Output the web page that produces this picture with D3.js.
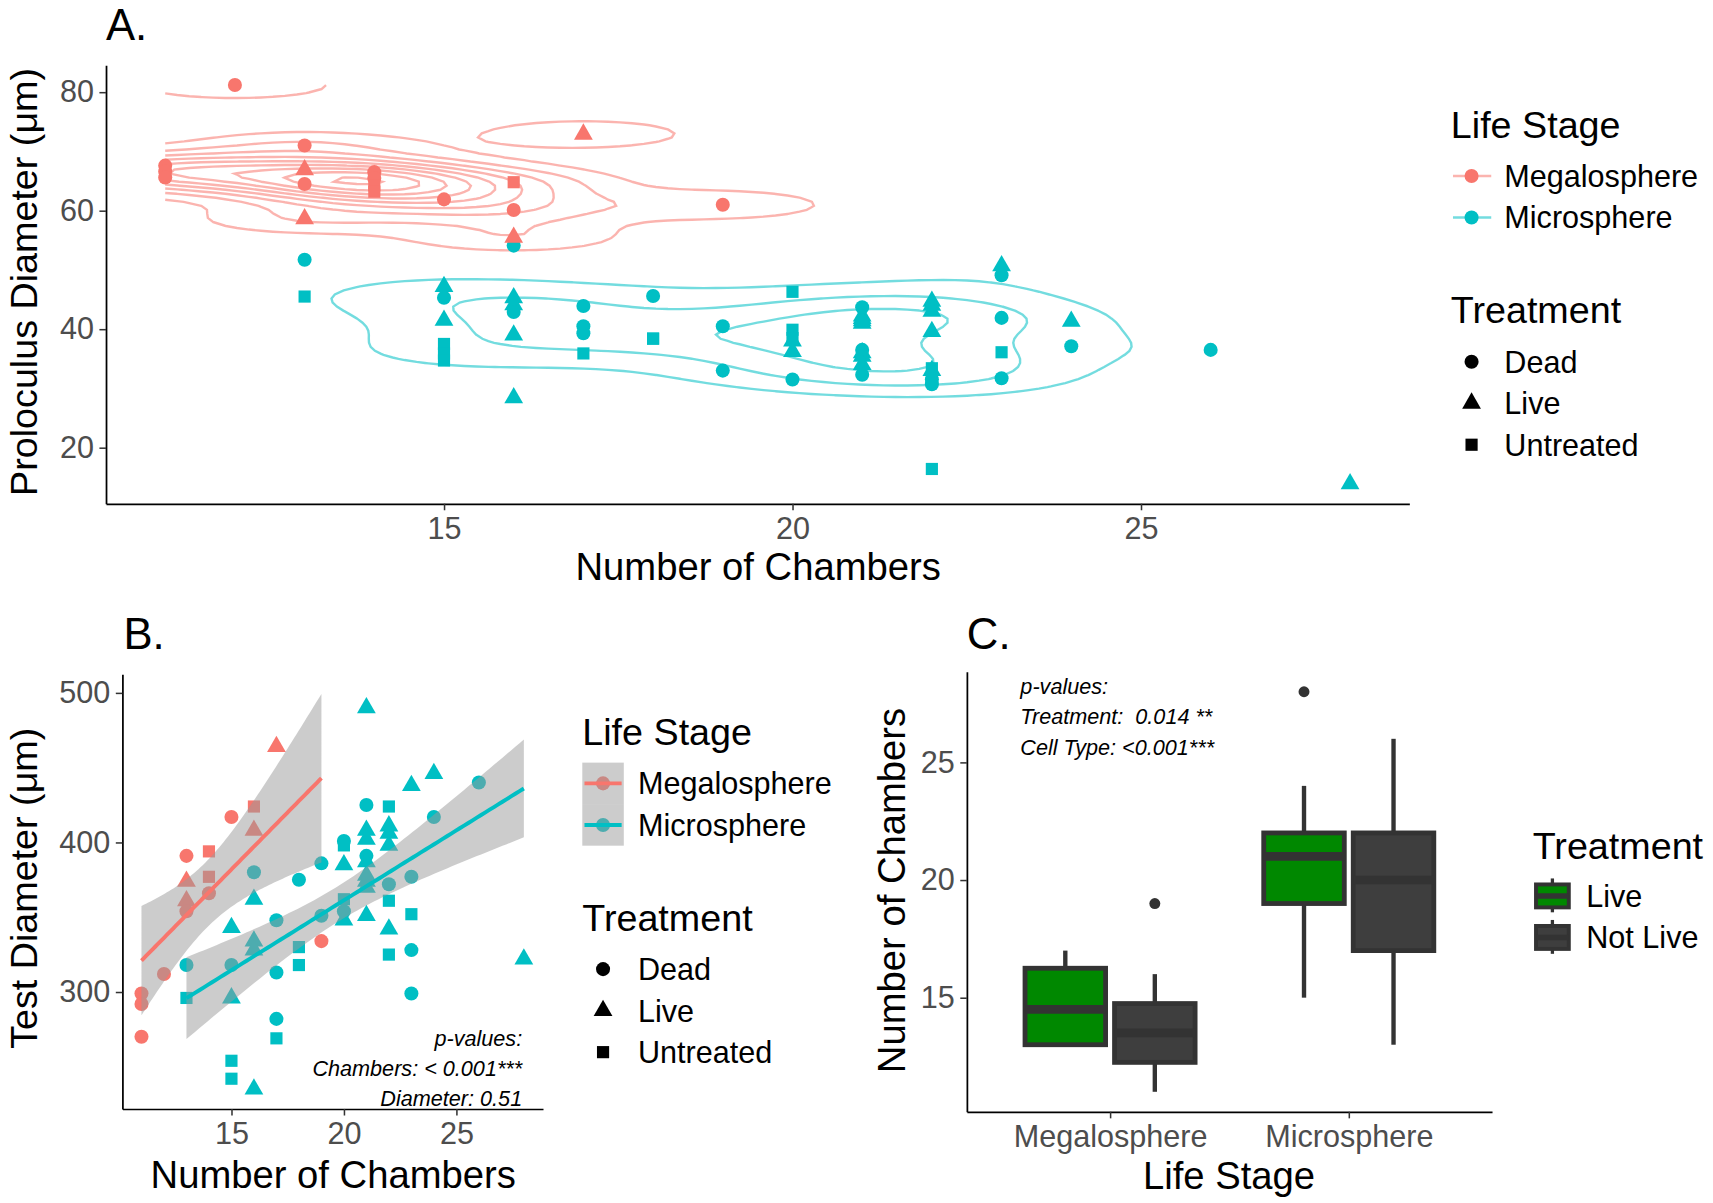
<!DOCTYPE html>
<html>
<head>
<meta charset="utf-8">
<title>Proloculus, test diameter and chambers</title>
<script src="https://d3js.org/d3.v7.min.js"></script>
<style>
  body { margin: 0; background: #fff; }
  svg text { font-family: "Liberation Sans", Arial, sans-serif; }
</style>
</head>
<body>
<svg id="fig" width="1713" height="1203" viewBox="0 0 1568 1101"></svg>
<script>
// ---- data -------------------------------------------------------------
var stageNames = ["Megalosphere", "Microsphere"];
var stageColors = ["#F8766D", "#00BFC4"];
var treatNames = ["Dead", "Live", "Untreated"];

// A. proloculus diameter vs number of chambers
var megaA_x = [11, 11, 11, 12, 13, 13, 13, 13, 14, 14, 14, 14, 15, 16, 16, 16, 17, 19];
var megaA_y = [67.6, 66.6, 65.6, 81.2, 71.0, 66.9, 64.5, 58.6, 66.5, 65.5, 64.3, 63.2, 61.9, 64.8, 60.1, 55.5, 72.9, 61.0];
var megaA_t = ["Dead", "Dead", "Dead", "Dead", "Dead", "Live", "Dead", "Live", "Dead", "Dead", "Untreated", "Untreated",
               "Dead", "Untreated", "Dead", "Live", "Live", "Dead"];

// (stacks at 18, 21 and 22 hide a few overlapping specimens that panel B shows)
var microA_x = [13, 13,
                15, 15, 15, 15, 15, 15,
                16, 16, 16, 16, 16, 16,
                17, 17, 17, 17,
                18, 18, 18,
                19, 19,
                20, 20, 20, 20, 20, 20,
                21, 21, 21, 21, 21, 21, 21, 21, 21, 21,
                22, 22, 22, 22, 22, 22, 22, 22, 22,
                23, 23, 23, 23, 23,
                24, 24, 26, 28];
var microA_y = [51.7, 45.5,
                47.2, 45.3, 41.5, 37.5, 35.9, 34.7,
                54.1, 45.3, 44.1, 42.9, 39.0, 28.4,
                43.9, 40.5, 39.3, 35.9,
                45.6, 38.4, 38.4,
                40.5, 33.0,
                46.3, 39.9, 38.5, 38.0, 36.2, 31.5,
                43.7, 42.2, 41.8, 41.4, 41.0, 36.5, 36.0, 35.4, 34.0, 32.3,
                44.7, 44.0, 43.0, 39.6, 33.4, 33.0, 31.5, 30.7, 16.4,
                50.7, 49.1, 41.9, 36.1, 31.7,
                41.3, 37.1, 36.5, 13.9];
var microA_t = ["Dead", "Untreated",
                "Live", "Dead", "Live", "Untreated", "Untreated", "Untreated",
                "Dead", "Live", "Live", "Dead", "Live", "Live",
                "Dead", "Dead", "Dead", "Untreated",
                "Dead", "Untreated", "Untreated",
                "Dead", "Dead",
                "Untreated", "Untreated", "Untreated", "Live", "Live", "Dead",
                "Dead", "Live", "Live", "Live", "Live", "Dead", "Live", "Live", "Live", "Dead",
                "Live", "Live", "Live", "Live", "Untreated", "Live", "Dead", "Dead", "Untreated",
                "Live", "Dead", "Dead", "Untreated", "Dead",
                "Live", "Dead", "Dead", "Live"];

// B. test diameter vs number of chambers
var megaB_x = [11, 11, 11, 12, 13, 13, 13, 13, 14, 14, 14, 15, 16, 16, 17, 19];
var megaB_y = [299, 292, 270, 312, 391, 374, 361, 354, 394, 377, 366, 417, 424, 408, 464, 334];
var megaB_t = ["Dead", "Dead", "Dead", "Dead", "Dead", "Live", "Live", "Dead", "Untreated", "Untreated", "Dead",
               "Dead", "Untreated", "Live", "Live", "Dead"];

var microB_x = [21, 23, 24, 26, 24, 21, 22, 22, 22, 22, 20, 20, 21, 21, 21, 21, 20, 19, 18, 16, 21, 21, 21,
                22, 23, 20, 22, 16, 20, 19, 20, 21, 23, 17, 15, 22, 16, 16, 18, 18, 23, 22, 13, 15, 17,
                28, 13, 15, 23, 17, 17, 15, 15, 16];
var microB_y = [490, 438, 446, 440, 417, 425, 424, 411, 406, 398, 401, 398, 408, 402, 391, 387, 385, 386, 375, 380, 378, 374, 370,
                372, 377, 362, 361, 362, 354, 351, 348, 351, 352, 348, 343, 342, 334, 328, 330, 318, 328, 325, 318, 318, 313,
                322, 296, 296, 299, 282, 269, 254, 242, 235];
var microB_t = ["Live", "Live", "Live", "Dead", "Dead", "Dead", "Untreated", "Live", "Live", "Live", "Dead", "Untreated",
                "Live", "Live", "Dead", "Live", "Live", "Dead", "Dead", "Dead", "Live", "Live", "Live",
                "Dead", "Dead", "Untreated", "Untreated", "Live", "Dead", "Dead", "Live", "Live", "Untreated", "Dead", "Live",
                "Live", "Live", "Live", "Untreated", "Untreated", "Dead", "Untreated", "Dead", "Dead", "Dead",
                "Live", "Untreated", "Live", "Dead", "Dead", "Untreated", "Untreated", "Untreated", "Live"];

// C. number of chambers by life stage and treatment (box statistics)
var boxStage = ["Megalosphere", "Megalosphere", "Microsphere", "Microsphere"];
var boxTreat = ["Live", "Not Live", "Live", "Not Live"];
var boxLower = [13, 11, 15, 13];
var boxQ1 = [13, 12.25, 19, 17];
var boxMedian = [14.5, 13.5, 21, 20];
var boxQ3 = [16.25, 14.75, 22, 22];
var boxUpper = [17, 16, 24, 26];
var boxOutliers = [[], [19], [28], []];
var treatCNames = ["Live", "Not Live"];
var treatCFill = ["#008800", "#3e3e3e"];

// ---- helpers ------------------------------------------------------------
var svg = d3.select("#fig");
var FONT = "Liberation Sans, Arial, sans-serif";

function rows(xs, ys, ts, stage) {
  return xs.map(function (x, i) { return { x: x, y: ys[i], t: ts[i], stage: stage }; });
}
function expand(ext) {
  var d = ext[1] - ext[0];
  return [ext[0] - 0.05 * d, ext[1] + 0.05 * d];
}
var shapeType = { Dead: d3.symbolCircle, Live: d3.symbolTriangle, Untreated: d3.symbolSquare };
var shapeSize = { Dead: 130, Live: 128, Untreated: 124 };
function symbolPath(t) { return d3.symbol().type(shapeType[t]).size(shapeSize[t])(); }
var colorOf = d3.scaleOrdinal().domain(stageNames).range(stageColors);

function styleAxis(g) {
  g.attr("font-size", 28).attr("font-family", FONT);
  g.select(".domain").attr("stroke", "#000").attr("stroke-width", 1.6);
  g.selectAll(".tick line").attr("stroke", "#333").attr("stroke-width", 1.4);
  g.selectAll(".tick text").attr("fill", "#4d4d4d");
}
function label(x, y, txt, size, opts) {
  opts = opts || {};
  var t = svg.append("text").attr("x", x).attr("y", y).attr("font-size", size)
    .attr("fill", opts.fill || "#000").attr("text-anchor", opts.anchor || "start").text(txt);
  if (opts.italic) t.attr("font-style", "italic");
  if (opts.rotate) t.attr("transform", "rotate(-90," + x + "," + y + ")");
  return t;
}

// MASS::bandwidth.nrd and kde2d, as used by ggplot's stat_density_2d
function bandwidthNrd(v) {
  var s = v.slice().sort(d3.ascending);
  var h = (d3.quantileSorted(s, 0.75) - d3.quantileSorted(s, 0.25)) / 1.34;
  return 4 * 1.06 * Math.min(d3.deviation(v), h) * Math.pow(v.length, -0.2);
}
function kde2d(xs, ys, lims, n) {
  var sx = bandwidthNrd(xs) / 4, sy = bandwidthNrd(ys) / 4;
  var z = new Float64Array(n * n);
  var dn = function (u) { return Math.exp(-u * u / 2) / Math.sqrt(2 * Math.PI); };
  for (var j = 0; j < n; j++) {
    var gy = lims[2] + j * (lims[3] - lims[2]) / (n - 1);
    for (var i = 0; i < n; i++) {
      var gx = lims[0] + i * (lims[1] - lims[0]) / (n - 1), s = 0;
      for (var k = 0; k < xs.length; k++) s += dn((gx - xs[k]) / sx) * dn((gy - ys[k]) / sy);
      z[j * n + i] = s / (xs.length * sx * sy);
    }
  }
  return z;
}
// open isolines: d3 closes rings along the grid edge, drop those edge pieces
function isolines(z, n, level, lims) {
  var mp = d3.contours().size([n, n]).contour(z, level);
  var out = [];
  var onEdge = function (p) { return p[0] <= 0 || p[0] >= n || p[1] <= 0 || p[1] >= n; };
  mp.coordinates.forEach(function (poly) {
    poly.forEach(function (ring) {
      var pts = ring.slice();
      var a = pts[0], b = pts[pts.length - 1];
      if (a[0] === b[0] && a[1] === b[1]) pts.pop();
      var k0 = pts.findIndex(onEdge);
      if (k0 < 0) { pts.push(pts[0]); out.push(pts); return; }
      var cur = [];
      for (var k = 0; k < pts.length; k++) {
        var p = pts[(k0 + k) % pts.length];
        if (onEdge(p)) { if (cur.length > 1) out.push(cur); cur = []; }
        else cur.push(p);
      }
      if (cur.length > 1) out.push(cur);
    });
  });
  return out.map(function (l) {
    return l.map(function (p) {
      return [lims[0] + (p[0] - 0.5) * (lims[1] - lims[0]) / (n - 1),
              lims[2] + (p[1] - 0.5) * (lims[3] - lims[2]) / (n - 1)];
    });
  });
}

// t quantile (0.975) by Cornish-Fisher expansion
function tQuant(df) {
  var z = 1.959964, z3 = z * z * z, z5 = z3 * z * z, z7 = z5 * z * z;
  return z + (z3 + z) / (4 * df) + (5 * z5 + 16 * z3 + 3 * z) / (96 * df * df) +
    (3 * z7 + 19 * z5 + 17 * z3 - 15 * z) / (384 * df * df * df);
}
// lm fit with 95% band, like geom_smooth(method = "lm")
function lmFit(xs, ys, nOut) {
  var n = xs.length, mx = d3.mean(xs), my = d3.mean(ys), sxx = 0, sxy = 0, sse = 0;
  xs.forEach(function (x, i) { sxx += (x - mx) * (x - mx); sxy += (x - mx) * (ys[i] - my); });
  var b = sxy / sxx, a = my - b * mx;
  xs.forEach(function (x, i) { var r = ys[i] - (a + b * x); sse += r * r; });
  var s = Math.sqrt(sse / (n - 2)), t = tQuant(n - 2), ext = d3.extent(xs);
  return d3.range(nOut).map(function (i) {
    var x = ext[0] + i * (ext[1] - ext[0]) / (nOut - 1), f = a + b * x;
    var se = s * Math.sqrt(1 / n + (x - mx) * (x - mx) / sxx);
    return { x: x, f: f, lo: f - t * se, hi: f + t * se };
  });
}

// ---- panel A ------------------------------------------------------------
var dataA = [rows(megaA_x, megaA_y, megaA_t, stageNames[0]), rows(microA_x, microA_y, microA_t, stageNames[1])];
var allA = dataA[0].concat(dataA[1]);
var extAx = d3.extent(allA, function (d) { return d.x; });
var extAy = d3.extent(allA, function (d) { return d.y; });
var xA = d3.scaleLinear().domain(expand(extAx)).range([97, 1290]);
var yA = d3.scaleLinear().domain(expand(extAy)).range([461, 59.5]);

var N = 100, limsA = [extAx[0], extAx[1], extAy[0], extAy[1]];
var dens = dataA.map(function (g) {
  return kde2d(g.map(function (d) { return d.x; }), g.map(function (d) { return d.y; }), limsA, N);
});
var zMin = d3.min(dens, function (z) { return d3.min(z); });
var zMax = d3.max(dens, function (z) { return d3.max(z); });
var levels = d3.ticks(zMin, zMax, 10).filter(function (v) { return v > zMin && v < zMax; });

var lineA = d3.line().x(function (p) { return xA(p[0]); }).y(function (p) { return yA(p[1]); });
var gCont = svg.append("g");
dens.forEach(function (z, gi) {
  levels.forEach(function (lv) {
    isolines(z, N, lv, limsA).forEach(function (l) {
      gCont.append("path").attr("d", lineA(l)).attr("fill", "none")
        .attr("stroke", stageColors[gi]).attr("stroke-opacity", 0.55).attr("stroke-width", 2.2);
    });
  });
});

svg.append("g").selectAll("path").data(dataA[1].concat(dataA[0])).join("path")
  .attr("d", function (d) { return symbolPath(d.t); })
  .attr("transform", function (d) { return "translate(" + xA(d.x) + "," + yA(d.y) + ")"; })
  .attr("fill", function (d) { return colorOf(d.stage); });

svg.append("g").attr("transform", "translate(0,461)")
  .call(d3.axisBottom(xA).tickValues([15, 20, 25]).tickSize(6).tickPadding(6).tickSizeOuter(0)).call(styleAxis);
svg.append("g").attr("transform", "translate(97,0)")
  .call(d3.axisLeft(yA).tickValues([20, 40, 60, 80]).tickSize(6).tickPadding(5).tickSizeOuter(0)).call(styleAxis);

label(97, 37, "A.", 40);
label(694, 531, "Number of Chambers", 35, { anchor: "middle" });
label(34, 258, "Proloculus Diameter (\u03bcm)", 34.5, { anchor: "middle", rotate: true });

// legend A
label(1328, 126, "Life Stage", 34.5);
stageNames.forEach(function (s, i) {
  var cy = 161 + i * 38;
  svg.append("line").attr("x1", 1330).attr("x2", 1365).attr("y1", cy).attr("y2", cy)
    .attr("stroke", stageColors[i]).attr("stroke-opacity", 0.55).attr("stroke-width", 2.2);
  svg.append("path").attr("d", symbolPath("Dead")).attr("transform", "translate(1347," + cy + ")").attr("fill", stageColors[i]);
  label(1377, cy + 10, s, 28);
});
label(1328, 296, "Treatment", 34.5);
treatNames.forEach(function (t, i) {
  var cy = 331 + i * 38;
  svg.append("path").attr("d", symbolPath(t)).attr("transform", "translate(1347," + cy + ")").attr("fill", "#000");
  label(1377, cy + 10, t, 28);
});

// ---- panel B ------------------------------------------------------------
var dataB = [rows(megaB_x, megaB_y, megaB_t, stageNames[0]), rows(microB_x, microB_y, microB_t, stageNames[1])];
var fits = dataB.map(function (g) {
  return lmFit(g.map(function (d) { return d.x; }), g.map(function (d) { return d.y; }), 80);
});
var allB = dataB[0].concat(dataB[1]);
var yLoB = Math.min(d3.min(allB, function (d) { return d.y; }), d3.min(fits, function (f) { return d3.min(f, function (p) { return p.lo; }); }));
var yHiB = Math.max(d3.max(allB, function (d) { return d.y; }), d3.max(fits, function (f) { return d3.max(f, function (p) { return p.hi; }); }));
var xB = d3.scaleLinear().domain(expand(d3.extent(allB, function (d) { return d.x; }))).range([112, 497]);
var yB = d3.scaleLinear().domain(expand([yLoB, yHiB])).range([1015, 617]);

svg.append("g").selectAll("path").data(allB).join("path")
  .attr("d", function (d) { return symbolPath(d.t); })
  .attr("transform", function (d) { return "translate(" + xB(d.x) + "," + yB(d.y) + ")"; })
  .attr("fill", function (d) { return colorOf(d.stage); });

var band = d3.area().x(function (p) { return xB(p.x); }).y0(function (p) { return yB(p.lo); }).y1(function (p) { return yB(p.hi); });
var fitLine = d3.line().x(function (p) { return xB(p.x); }).y(function (p) { return yB(p.f); });
fits.forEach(function (f, gi) {
  svg.append("path").attr("d", band(f)).attr("fill", "#999").attr("fill-opacity", 0.5);
  svg.append("path").attr("d", fitLine(f)).attr("fill", "none").attr("stroke", stageColors[gi]).attr("stroke-width", 3.6);
});

svg.append("g").attr("transform", "translate(0,1015)")
  .call(d3.axisBottom(xB).tickValues([15, 20, 25]).tickSize(6).tickPadding(6).tickSizeOuter(0)).call(styleAxis);
svg.append("g").attr("transform", "translate(112,0)")
  .call(d3.axisLeft(yB).tickValues([300, 400, 500]).tickSize(6).tickPadding(5).tickSizeOuter(0)).call(styleAxis);

label(113, 594, "B.", 40);
label(305, 1087, "Number of Chambers", 35, { anchor: "middle" });
label(34, 813, "Test Diameter (\u03bcm)", 34.5, { anchor: "middle", rotate: true });
label(478, 957, "p-values:", 19.8, { anchor: "end", italic: true });
label(478, 985, "Chambers: < 0.001***", 19.8, { anchor: "end", italic: true });
label(478, 1012, "Diameter: 0.51", 19.8, { anchor: "end", italic: true });

// legend B
label(533, 682, "Life Stage", 34.5);
stageNames.forEach(function (s, i) {
  var cy = 717 + i * 38;
  svg.append("path").attr("d", symbolPath("Dead")).attr("transform", "translate(552," + cy + ")").attr("fill", stageColors[i]);
  svg.append("rect").attr("x", 533).attr("y", cy - 19).attr("width", 38).attr("height", 38)
    .attr("fill", "#999").attr("fill-opacity", 0.5);
  svg.append("line").attr("x1", 535).attr("x2", 569).attr("y1", cy).attr("y2", cy)
    .attr("stroke", stageColors[i]).attr("stroke-width", 3.6);
  label(584, cy + 10, s, 28);
});
label(533, 852, "Treatment", 34.5);
treatNames.forEach(function (t, i) {
  var cy = 887 + i * 38;
  svg.append("path").attr("d", symbolPath(t)).attr("transform", "translate(552," + cy + ")").attr("fill", "#000");
  label(584, cy + 10, t, 28);
});

// ---- panel C ------------------------------------------------------------
var allC = boxLower.concat(boxUpper, d3.merge(boxOutliers));
var xC = d3.scalePoint().domain(stageNames).range([885, 1365.7]).padding(0.6);
var yC = d3.scaleLinear().domain(expand(d3.extent(allC))).range([1017.6, 614.8]);
var unit = xC.step();
var dodge = d3.scaleOrdinal().domain(treatCNames).range([-0.1875, 0.1875]);
var fillC = d3.scaleOrdinal().domain(treatCNames).range(treatCFill);
var halfW = 0.375 * 0.9 / 2 * unit;

boxStage.forEach(function (s, i) {
  var cx = xC(s) + dodge(boxTreat[i]) * unit;
  var g = svg.append("g");
  g.append("line").attr("x1", cx).attr("x2", cx).attr("y1", yC(boxUpper[i])).attr("y2", yC(boxQ3[i]))
    .attr("stroke", "#333").attr("stroke-width", 4);
  g.append("line").attr("x1", cx).attr("x2", cx).attr("y1", yC(boxQ1[i])).attr("y2", yC(boxLower[i]))
    .attr("stroke", "#333").attr("stroke-width", 4);
  g.append("rect").attr("x", cx - halfW).attr("width", 2 * halfW)
    .attr("y", yC(boxQ3[i])).attr("height", yC(boxQ1[i]) - yC(boxQ3[i]))
    .attr("fill", fillC(boxTreat[i])).attr("stroke", "#333").attr("stroke-width", 4.4);
  g.append("line").attr("x1", cx - halfW).attr("x2", cx + halfW).attr("y1", yC(boxMedian[i])).attr("y2", yC(boxMedian[i]))
    .attr("stroke", "#333").attr("stroke-width", 8);
  boxOutliers[i].forEach(function (o) {
    g.append("circle").attr("cx", cx).attr("cy", yC(o)).attr("r", 5).attr("fill", "#333");
  });
});

svg.append("g").attr("transform", "translate(0,1017.6)")
  .call(d3.axisBottom(xC).tickSize(6).tickPadding(6).tickSizeOuter(0)).call(styleAxis);
svg.append("g").attr("transform", "translate(885,0)")
  .call(d3.axisLeft(yC).tickValues([15, 20, 25]).tickSize(6).tickPadding(5).tickSizeOuter(0)).call(styleAxis);

label(885, 594, "C.", 40);
label(1125, 1088, "Life Stage", 35, { anchor: "middle" });
label(828, 815, "Number of Chambers", 35, { anchor: "middle", rotate: true });
label(934, 635, "p-values:", 19.8, { italic: true });
label(934, 663, "Treatment:\u00a0 0.014 **", 19.8, { italic: true });
label(934, 691, "Cell Type: <0.001***", 19.8, { italic: true });

// legend C
label(1403, 786, "Treatment", 34.5);
treatCNames.forEach(function (t, i) {
  var cy = 820 + i * 38, cx = 1421;
  svg.append("line").attr("x1", cx).attr("x2", cx).attr("y1", cy - 16).attr("y2", cy + 15)
    .attr("stroke", "#333").attr("stroke-width", 3);
  svg.append("rect").attr("x", cx - 15).attr("y", cy - 10.5).attr("width", 30).attr("height", 21)
    .attr("fill", fillC(t)).attr("stroke", "#333").attr("stroke-width", 3.6);
  svg.append("line").attr("x1", cx - 15).attr("x2", cx + 15).attr("y1", cy).attr("y2", cy)
    .attr("stroke", "#333").attr("stroke-width", 5);
  label(1452, cy + 10, t, 28);
});
</script>
</body>
</html>
